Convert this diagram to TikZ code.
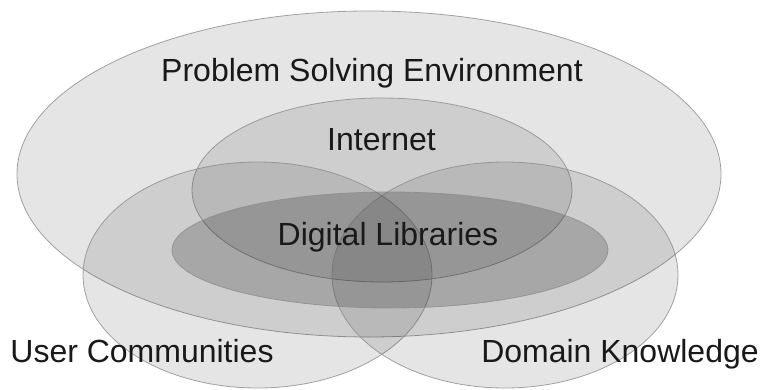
\documentclass[tikz,border=0pt]{standalone}
\usepackage{fontspec}
\setmainfont{Liberation Sans}
\usetikzlibrary{shapes.geometric}
\tikzset{
  ell/.style={ellipse, draw=black!45, line width=0.8pt, fill=black, fill opacity=0.1, draw opacity=0.8, inner sep=0pt},
  dl/.style={ell, fill opacity=0.19},
  lbl/.style={anchor=base, text=black!90, font=\fontsize{32}{37}\selectfont, inner sep=0pt}
}
\begin{document}
\begin{tikzpicture}[x=1pt,y=-1pt]
\useasboundingbox (0,0) rectangle (762,390);
\node[ell, minimum width=704pt, minimum height=326pt] (pse) at (369,174) {};
\node[ell, minimum width=380pt, minimum height=184pt] (inet) at (382,190) {};
\node[ell, minimum width=349pt, minimum height=226pt] (uc) at (257.5,275) {};
\node[ell, minimum width=346pt, minimum height=226pt] (dk) at (505,275) {};
\node[dl, minimum width=436pt, minimum height=116pt] (dlib) at (390,250) {};
\node[lbl] (tpse) at (372,82) {Problem Solving Environment};
\node[lbl] (tinet) at (381.5,150) {Internet};
\node[lbl] (tdl) at (388,245) {Digital Libraries};
\node[lbl] (tuc) at (142,362) {User Communities};
\node[lbl] (tdk) at (620,362) {Domain Knowledge};
\end{tikzpicture}
\end{document}
